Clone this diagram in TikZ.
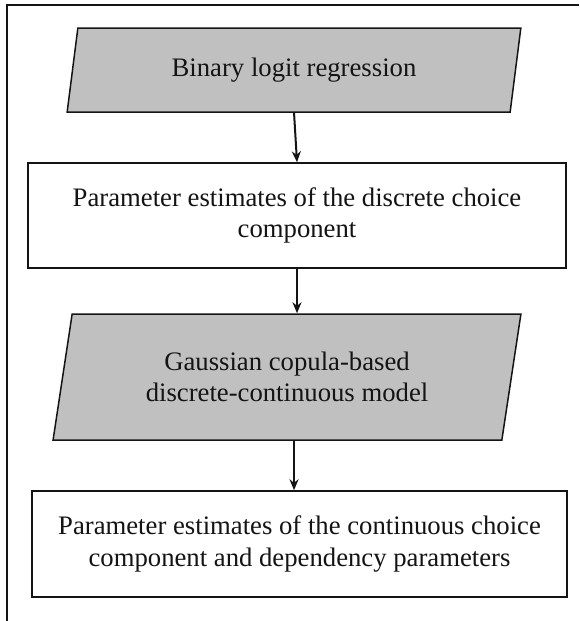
\documentclass[tikz,border=0pt]{standalone}
\usepackage{fontspec}
\setmainfont{Liberation Serif}
\usetikzlibrary{shapes.geometric,arrows.meta,calc}
\definecolor{boxgray}{RGB}{192,192,192}
\definecolor{inkcol}{RGB}{20,20,20}
\tikzset{
  flowtext/.style={font=\fontsize{26.7pt}{31.5pt}\selectfont, text=inkcol, align=center, inner sep=0pt},
  iobox/.style={flowtext, shape=trapezium, trapezium left angle=76, trapezium right angle=104,
    trapezium stretches=true, draw=inkcol, line width=1.5pt, fill=boxgray},
  procbox/.style={flowtext, shape=rectangle, draw=inkcol, line width=1.5pt, fill=white},
  flowarrow/.style={draw=inkcol, line width=2pt, -{Stealth[length=11pt,width=9pt]}}
}
\begin{document}
\begin{tikzpicture}[x=1pt,y=-1pt]
  \useasboundingbox (0,0) rectangle (579,621);
  % page frame (top and left edges)
  \draw[inkcol, line width=1.2pt] (7,621) -- (7,5) -- (579,5);

  \node[iobox, minimum width=454pt, minimum height=84pt] (p1) at (294,70) {Binary logit regression};
  \node[procbox, minimum width=538pt, minimum height=105pt] (r2) at (297,215.5)
    {Parameter estimates of the discrete choice\\component};
  \node[iobox, minimum width=468pt, minimum height=126pt] (p2) at (287,377)
    {Gaussian copula-based\\discrete-continuous model};
  \node[procbox, minimum width=535pt, minimum height=106pt] (r4) at (299.5,544)
    {Parameter estimates of the continuous choice\\component and dependency parameters};

  \draw[flowarrow] (p1.south) -- (r2.north);
  \draw[flowarrow] (r2.south) -- (r2.south |- p2.north);
  \draw[flowarrow] ($(p2.south)+(7,0)$) -- ($(p2.south |- r4.north)+(7,0)$);
\end{tikzpicture}
\end{document}
